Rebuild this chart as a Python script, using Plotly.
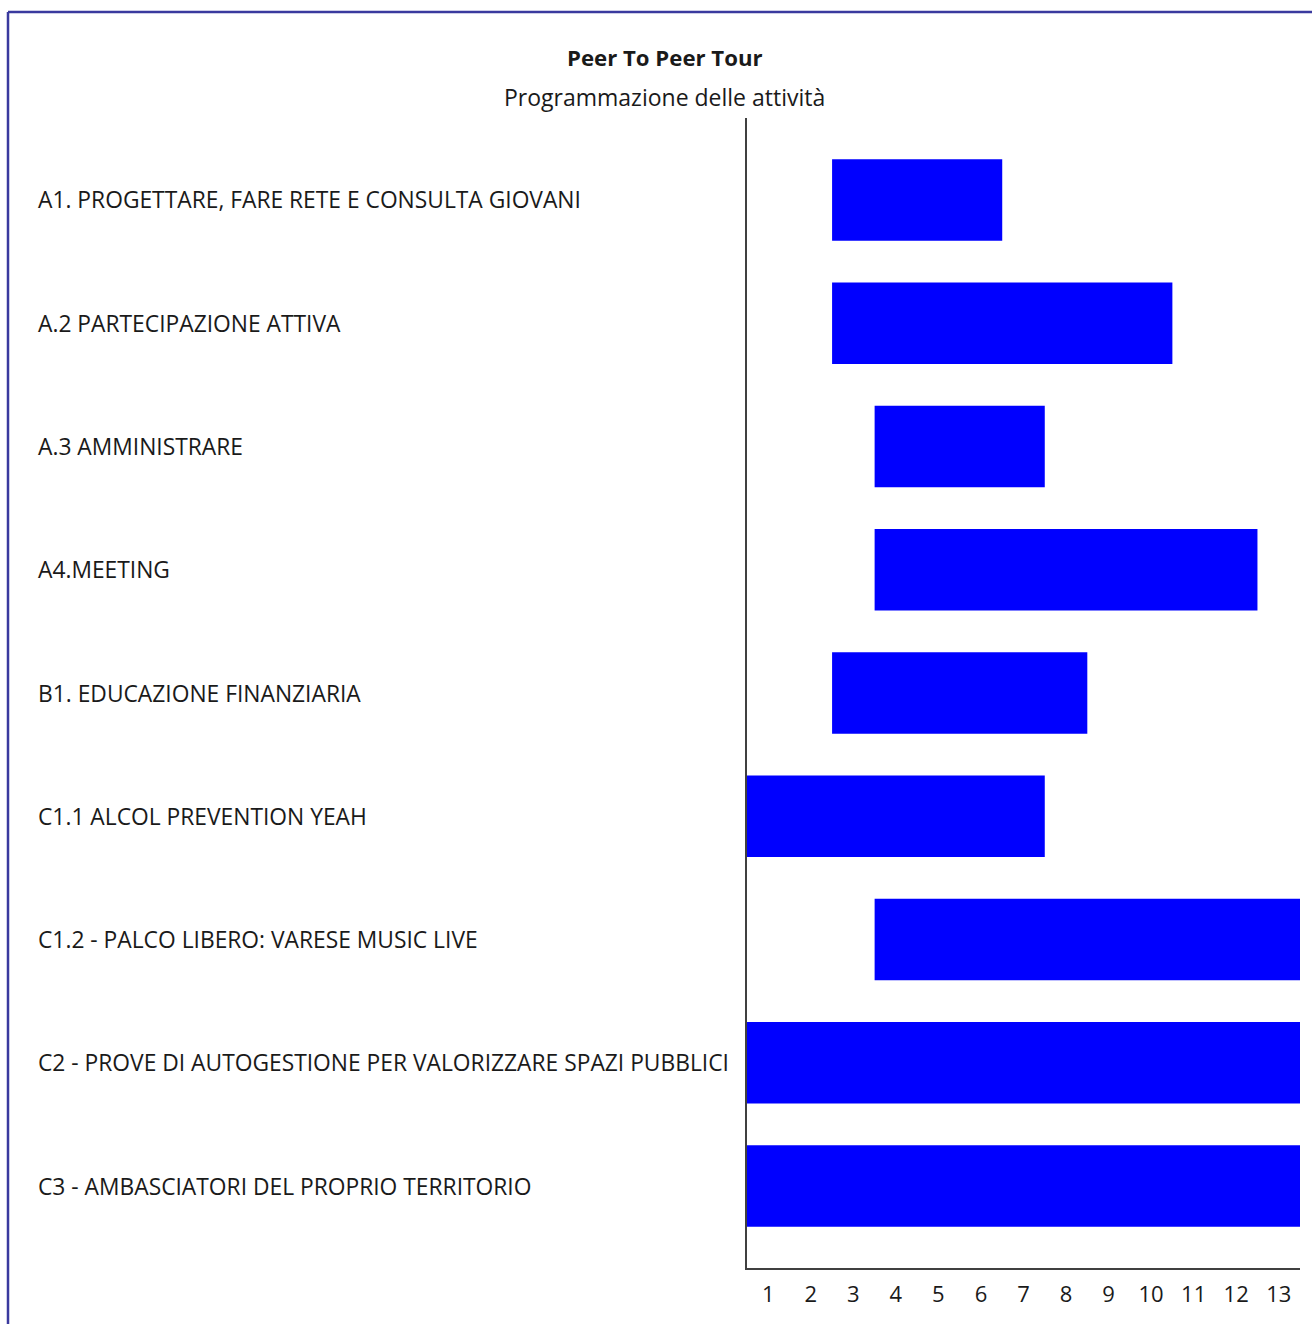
import plotly.graph_objects as go

activities = [
    "A1. PROGETTARE, FARE RETE E CONSULTA GIOVANI",
    "A.2 PARTECIPAZIONE ATTIVA",
    "A.3 AMMINISTRARE",
    "A4.MEETING",
    "B1. EDUCAZIONE FINANZIARIA",
    "C1.1 ALCOL PREVENTION YEAH",
    "C1.2 - PALCO LIBERO: VARESE MUSIC LIVE",
    "C2 - PROVE DI AUTOGESTIONE PER VALORIZZARE SPAZI PUBBLICI",
    "C3 - AMBASCIATORI DEL PROPRIO TERRITORIO",
]
start_month = [3, 3, 4, 4, 3, 1, 4, 1, 1]
end_month = [6, 10, 7, 12, 8, 7, 13, 13, 13]
months = list(range(1, 14))

title = "Peer To Peer Tour"
subtitle = "Programmazione delle attività"

FONT = "'Open Sans', Lato, sans-serif"
TXT = "#1a1a1a"

base = [s - 0.5 for s in start_month]
length = [e - s + 1 for s, e in zip(start_month, end_month)]

fig = go.Figure()
fig.add_trace(go.Bar(
    y=activities, x=length, base=base, orientation="h",
    marker=dict(color="#0000ff", line=dict(width=0)),
    width=0.66, showlegend=False, hoverinfo="skip",
))

W, H = 1312, 1324
L, R, T, B = 747, 12, 118, 56
pw = W - L - R
ph = H - T - B


def px(x):
    return (x - L) / pw


def py(y):
    return (H - B - y) / ph


annotations = []
for a in activities:
    annotations.append(dict(
        x=px(36), xref="paper", y=a, yref="y", text=a, showarrow=False,
        xanchor="left", yanchor="middle",
        font=dict(family=FONT, size=22.8, color=TXT),
    ))
annotations.append(dict(
    x=px(665), y=py(57), xref="paper", yref="paper", text="<b>" + title + "</b>",
    showarrow=False, xanchor="center", yanchor="middle",
    font=dict(family=FONT, size=22.2, color=TXT),
))
annotations.append(dict(
    x=px(664), y=py(97), xref="paper", yref="paper", text=subtitle,
    showarrow=False, xanchor="center", yanchor="middle",
    font=dict(family=FONT, size=23, color=TXT),
))

shapes = [
    dict(type="line", xref="paper", yref="paper", x0=px(8), x1=px(1330), y0=py(12), y1=py(12),
         line=dict(color="#3a3a9e", width=2.5)),
    dict(type="line", xref="paper", yref="paper", x0=px(8), x1=px(8), y0=py(12), y1=py(1340),
         line=dict(color="#3a3a9e", width=2.5)),
]

fig.update_layout(
    width=W, height=H,
    margin=dict(l=L, r=R, t=T, b=B),
    paper_bgcolor="white", plot_bgcolor="white",
    annotations=annotations, shapes=shapes,
    xaxis=dict(
        range=[0.5, 13.5], tickmode="array", tickvals=months,
        ticktext=[str(m) for m in months],
        showgrid=False, zeroline=False, showline=True, linecolor="#404040", linewidth=1.5,
        ticks="", ticklabelstandoff=6,
        tickfont=dict(family=FONT, size=22, color=TXT),
    ),
    yaxis=dict(
        type="category", categoryorder="array", categoryarray=activities,
        range=[8.665, -0.665], showticklabels=False, showgrid=False, zeroline=False,
        showline=True, linecolor="#404040", linewidth=1.5, ticks="",
    ),
)

fig.write_html("out.html")
